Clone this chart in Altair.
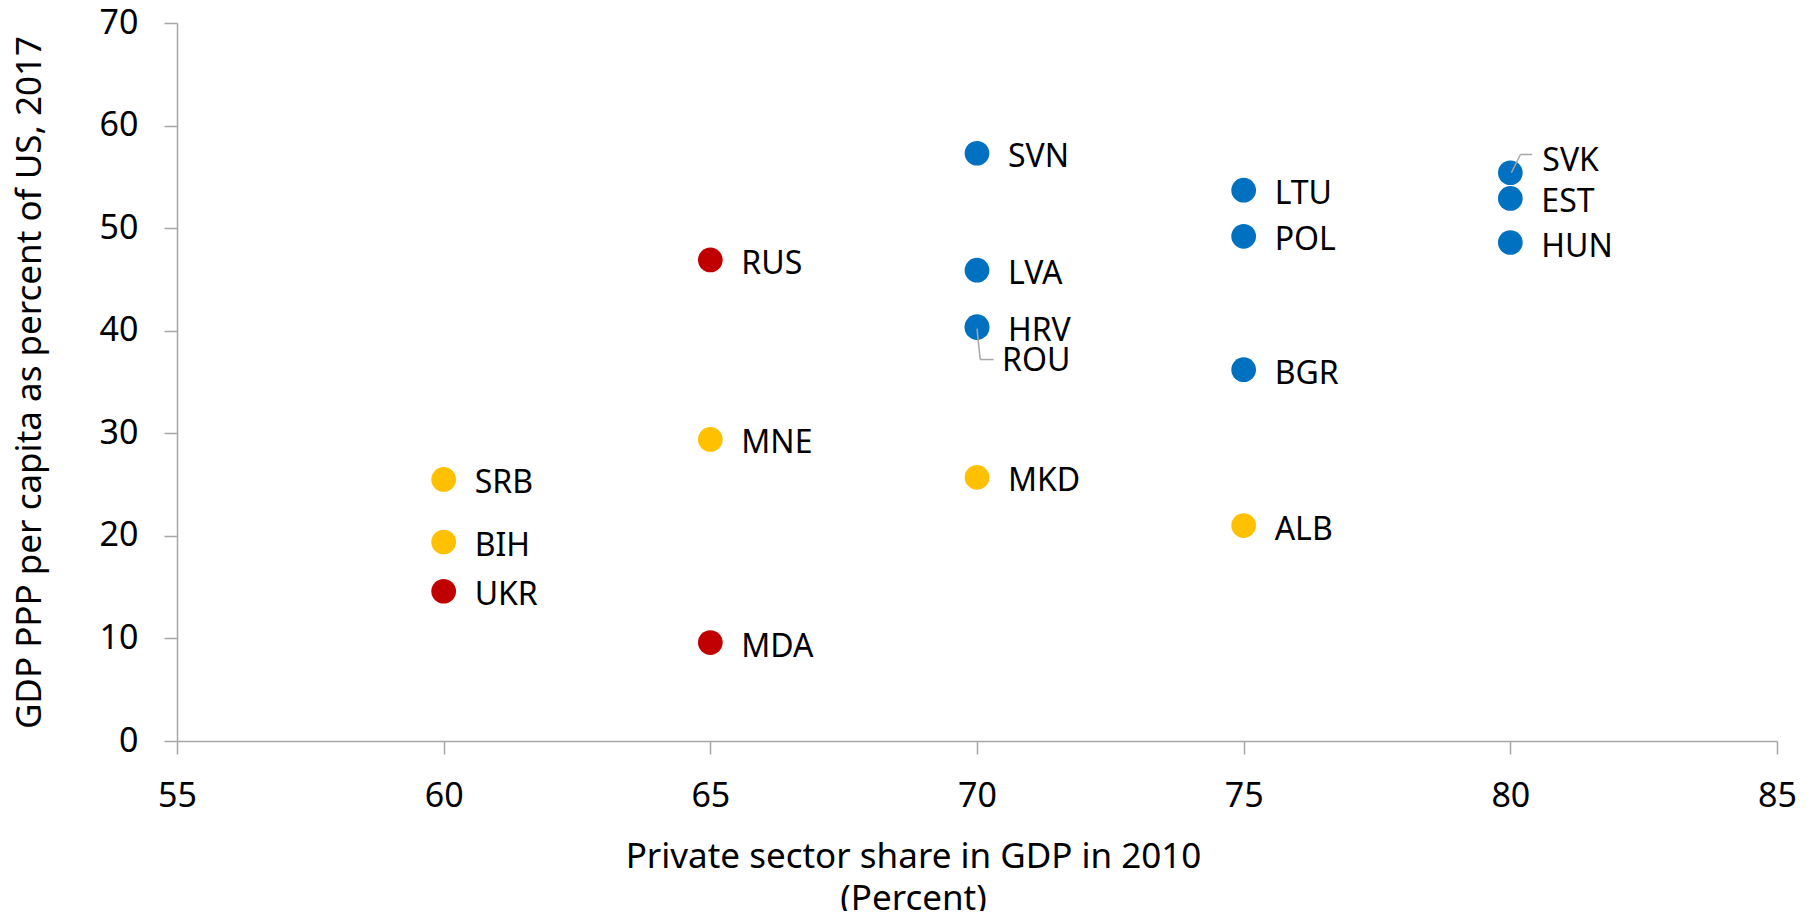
import altair as alt
import pandas as pd

countries = ["SVN", "LTU", "POL", "SVK", "EST", "HUN", "LVA", "HRV", "ROU", "BGR",
             "RUS", "MNE", "MKD", "SRB", "ALB", "BIH", "UKR", "MDA"]
private_share = [70, 75, 75, 80, 80, 80, 70, 70, 70, 75,
                 65, 65, 70, 60, 75, 60, 60, 65]
gdp_ppp = [57.3, 53.7, 49.2, 55.4, 52.9, 48.6, 45.9, 40.4, 40.3, 36.2,
           46.9, 29.4, 25.7, 25.5, 21.0, 19.4, 14.6, 9.6]
groups = ["EU", "EU", "EU", "EU", "EU", "EU", "EU", "EU", "EU", "EU",
          "CIS", "WB", "WB", "WB", "WB", "WB", "CIS", "CIS"]
group_names = ["EU", "WB", "CIS"]
group_colors = ["#0070C0", "#FFC000", "#C00000"]

# labels moved away from their points (with leader lines)
moved = ["SVK", "ROU"]
moved_label_x = [80.6, 70.47]
moved_label_y = [56.5, 37.0]
leader_x = [80.02, 80.19, 70.0, 70.06]
leader_y = [55.4, 57.18, 40.2, 37.19]
leader_x2 = [80.19, 80.41, 70.06, 70.31]
leader_y2 = [57.18, 57.18, 37.19, 37.19]

FONT = "Noto Sans"

df = pd.DataFrame({"country": countries, "x": private_share, "y": gdp_ppp, "group": groups})
df_plain = df[~df["country"].isin(moved)]
df_moved = pd.DataFrame({"country": moved, "lx": moved_label_x, "ly": moved_label_y})
df_lead = pd.DataFrame({"x": leader_x, "y": leader_y, "x2": leader_x2, "y2": leader_y2})

xscale = alt.Scale(domain=[55, 85], nice=False, zero=False)
yscale = alt.Scale(domain=[0, 70], nice=False)

xaxis = alt.Axis(
    values=[55, 60, 65, 70, 75, 80, 85],
    title=["Private sector share in GDP in 2010", "(Percent)"],
    grid=False, domainColor="#A6A6A6", domainWidth=1.5, tickColor="#A6A6A6", tickWidth=1.5,
    tickSize=13, labelFontSize=34, labelFont=FONT, labelColor="#000000", labelPadding=25,
    labelFlush=False,
    titleFont=FONT, titleFontSize=35, titleFontWeight="normal", titleColor="#000000",
    titleX=736, titleY=115, titleAlign="center", titleBaseline="middle", titleLineHeight=42,
)
yaxis = alt.Axis(
    values=[0, 10, 20, 30, 40, 50, 60, 70],
    title="GDP PPP per capita as percent of US, 2017",
    grid=False, domainColor="#A6A6A6", domainWidth=1.5, tickColor="#A6A6A6", tickWidth=1.5,
    tickSize=13, labelFontSize=34, labelFont=FONT, labelColor="#000000", labelPadding=26,
    labelFlush=False,
    titleFont=FONT, titleFontSize=35, titleFontWeight="normal", titleColor="#000000",
    titleX=-148, titleY=359, titleAngle=-90, titleAlign="center", titleBaseline="middle",
)

points = alt.Chart(df).mark_circle(size=610, opacity=1).encode(
    x=alt.X("x:Q", scale=xscale, axis=xaxis),
    y=alt.Y("y:Q", scale=yscale, axis=yaxis),
    color=alt.Color("group:N", scale=alt.Scale(domain=group_names, range=group_colors), legend=None),
)

labels = alt.Chart(df_plain).mark_text(
    align="left", baseline="middle", dx=31, dy=4, font=FONT, fontSize=32, color="#000000"
).encode(x=alt.X("x:Q", scale=xscale), y=alt.Y("y:Q", scale=yscale), text="country:N")

moved_labels = alt.Chart(df_moved).mark_text(
    align="left", baseline="middle", font=FONT, fontSize=32, color="#000000"
).encode(x=alt.X("lx:Q", scale=xscale), y=alt.Y("ly:Q", scale=yscale), text="country:N")

leaders = alt.Chart(df_lead).mark_rule(color="#A6A6A6", strokeWidth=1.5).encode(
    x=alt.X("x:Q", scale=xscale), y=alt.Y("y:Q", scale=yscale),
    x2="x2:Q", y2="y2:Q",
)

chart = alt.layer(points, leaders, labels, moved_labels).properties(
    width=1600, height=718,
    autosize=alt.AutoSizeParams(type="none"),
    padding={"left": 169, "top": 15, "right": 25, "bottom": 170},
    background="white",
).configure_view(stroke=None)

chart.save("out.html", embed_options={"renderer": "svg", "actions": False})
